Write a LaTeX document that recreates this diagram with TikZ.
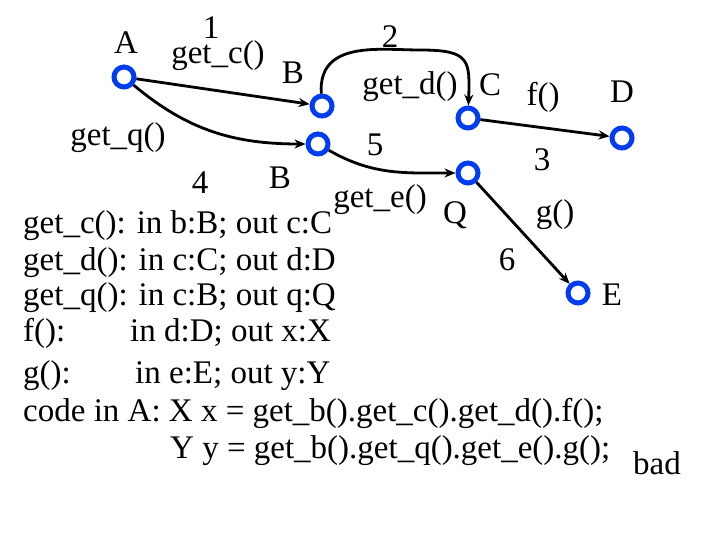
\documentclass[tikz,border=0pt]{standalone}
\usepackage{fontspec}
\setmainfont{Liberation Serif}
\usetikzlibrary{arrows.meta}
\begin{document}
\begin{tikzpicture}[x=1pt,y=-1pt,
  pt/.style={circle,draw=blue!75!cyan!95!black,line width=5pt,fill=white,minimum size=20pt,inner sep=0pt},
  lb/.style={font=\fontsize{33}{36}\selectfont,inner sep=0pt},
  tx/.style={font=\fontsize{33}{36}\selectfont,inner sep=0pt,anchor=west},
  ar/.style={line width=2.8pt,-{Stealth[length=11pt,width=9pt]}}]
\useasboundingbox (0,0) rectangle (720,540);
\node[pt] (A) at (124,77) {};
\node[pt] (B1) at (322,106) {};
\node[pt] (B2) at (318,144) {};
\node[pt] (C) at (468,118) {};
\node[pt] (D) at (622,138) {};
\node[pt] (Q) at (468,173) {};
\node[pt] (E) at (578,293) {};
\draw[ar] (A) -- (B1);
\draw[ar] (A) to[out=-40,in=180] (B2);
\draw[ar] (B1) .. controls (318,40) and (380,50) .. (420,50) .. controls (470,50) and (470,60) .. (C);
\draw[ar] (C) -- (D);
\draw[ar] (B2) to[out=-30,in=180] (Q);
\draw[ar] (Q) -- (E);
\node[lb] (lA) at (126,43) {A};
\node[lb] (l1) at (211,28) {1};
\node[lb] (lgc) at (218,56) {get\_c()};
\node[lb] (lB1) at (293,73) {B};
\node[lb] (l2) at (390,37) {2};
\node[lb] (lgd) at (410,87) {get\_d()};
\node[lb] (lC) at (490,85) {C};
\node[lb] (lf) at (543,97) {f()};
\node[lb] (lD) at (622,92) {D};
\node[lb] (lgq) at (118,138) {get\_q()};
\node[lb] (l5) at (375,145) {5};
\node[lb] (l3) at (542,160) {3};
\node[lb] (lB2) at (280,178) {B};
\node[lb] (l4) at (200,183) {4};
\node[lb] (lge) at (380,200) {get\_e()};
\node[lb] (lQ) at (455,215) {Q};
\node[lb] (lg) at (555,215) {g()};
\node[lb] (l6) at (507,260) {6};
\node[lb] (lE) at (612,295) {E};
\node[lb] (bad) at (657,463) {bad};
\node[tx] (t1) at (23,226) {get\_c(): in b:B; out c:C};
\node[tx] (t2) at (23,263) {get\_d(): in c:C; out d:D};
\node[tx] (t3) at (23,298) {get\_q(): in c:B; out q:Q};
\node[tx] (t4) at (23,333) {f():};
\node[tx] (t4b) at (130,333) {in d:D; out x:X};
\node[tx] (t5) at (23,376) {g():};
\node[tx] (t5b) at (135,376) {in e:E; out y:Y};
\node[tx] (t6) at (23,413) {code in A: X x = get\_b().get\_c().get\_d().f();};
\node[tx] (t7) at (170,451) {Y y = get\_b().get\_q().get\_e().g();};
\end{tikzpicture}
\end{document}
